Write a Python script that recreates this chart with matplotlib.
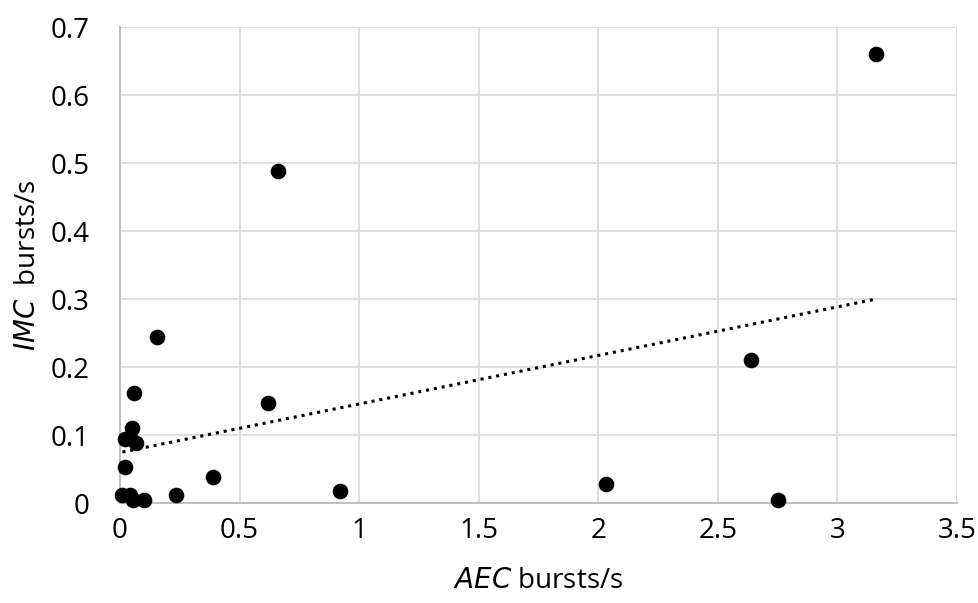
import numpy as np
import matplotlib.pyplot as plt

plt.rcParams['font.family'] = ['Open Sans', 'DejaVu Sans']

# AEC vs IMC burst rates (bursts/s)
aec = [0.06, 0.05, 0.02, 0.04, 0.065, 0.02, 0.01, 0.04, 0.055, 0.10,
       0.235, 0.39, 0.62, 0.155, 0.66, 0.92, 2.03, 2.64, 2.75, 3.16]
imc = [0.162, 0.111, 0.094, 0.096, 0.089, 0.053, 0.012, 0.012, 0.004, 0.004,
       0.012, 0.039, 0.147, 0.244, 0.488, 0.017, 0.028, 0.210, 0.004, 0.661]

x_ticks = [0, 0.5, 1, 1.5, 2, 2.5, 3, 3.5]
x_labels = ['0', '0.5', '1', '1.5', '2', '2.5', '3', '3.5']
y_ticks = [0, 0.1, 0.2, 0.3, 0.4, 0.5, 0.6, 0.7]
y_labels = ['0', '0.1', '0.2', '0.3', '0.4', '0.5', '0.6', '0.7']

fig = plt.figure(figsize=(9.79, 6.03), dpi=100)
ax = fig.add_axes([0.1226, 0.1658, 0.855, 0.789])

ax.scatter(aec, imc, s=105, color='black', zorder=3, clip_on=False)

# linear trendline
slope, intercept = np.polyfit(aec, imc, 1)
xs = np.array([min(aec), max(aec)])
ax.plot(xs, slope * xs + intercept, color='black', linestyle=(0, (1, 1.6)),
        linewidth=2.2, zorder=2)

ax.set_xlim(0, 3.5)
ax.set_ylim(0, 0.7)
ax.set_xticks(x_ticks)
ax.set_xticklabels(x_labels)
ax.set_yticks(y_ticks)
ax.set_yticklabels(y_labels)
ax.tick_params(length=0, labelsize=20, colors='black')
ax.tick_params(axis='y', pad=22)
ax.tick_params(axis='x', pad=10)

ax.grid(True, color='#d9d9d9', linewidth=1.2)
ax.set_axisbelow(True)
for s in ['top', 'right']:
    ax.spines[s].set_visible(False)
for s in ['left', 'bottom']:
    ax.spines[s].set_color('#bfbfbf')
    ax.spines[s].set_linewidth(1.5)

ax.set_xlabel(r'$\it{AEC}$ bursts/s', fontsize=20, labelpad=16)
ax.set_ylabel(r'$\it{IMC}$  bursts/s', fontsize=20, labelpad=6)

plt.savefig('out.png', dpi=100)
